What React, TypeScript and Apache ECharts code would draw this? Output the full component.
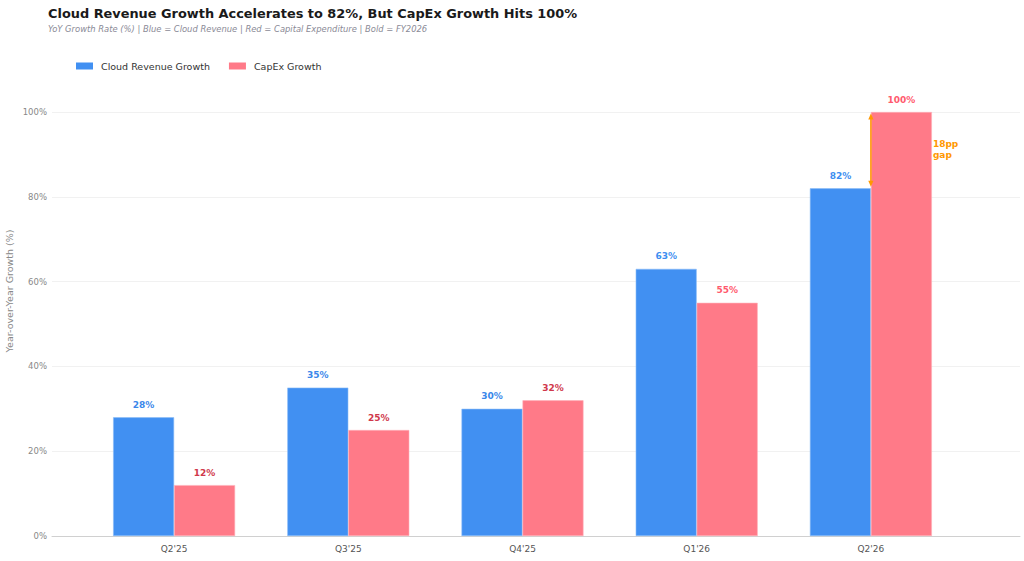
import React, { useEffect, useRef } from "react";
import * as echarts from "echarts";

const categories = ["Q2'25", "Q3'25", "Q4'25", "Q1'26", "Q2'26"];
const cloudGrowth = [28, 35, 30, 63, 82];
const capexGrowth = [12, 25, 32, 55, 100];
const fiscalYear = ["FY2025", "FY2025", "FY2025", "FY2026", "FY2026"];
const yTicks = [0, 20, 40, 60, 80, 100];

const FONT = "DejaVu Sans";
const BLUE = "#4190F2";
const RED = "#FF7A88";
const ORANGE = "#FF9800";

export default function App() {
  const ref = useRef<HTMLDivElement>(null);
  useEffect(() => {
    if (!ref.current) return;
    const chart = echarts.init(ref.current, null, { renderer: "svg" });
    const barW = 61;
    const blueLabel = (fy: string) => (fy === "FY2026" ? "#3D8EF0" : "#3A87EA");
    const redLabel = (fy: string) => (fy === "FY2026" ? "#FF5A6E" : "#D0384B");
    const gapIdx = categories.length - 1;
    const gap = capexGrowth[gapIdx] - cloudGrowth[gapIdx];
    const option: any = {
      animation: false,
      backgroundColor: "#fff",
      textStyle: { fontFamily: FONT },
      title: {
        text: "Cloud Revenue Growth Accelerates to 82%, But CapEx Growth Hits 100%",
        subtext: "YoY Growth Rate (%) | Blue = Cloud Revenue | Red = Capital Expenditure | Bold = FY2026",
        left: 43,
        top: 2,
        itemGap: 5,
        textStyle: { fontFamily: FONT, fontSize: 12.9, fontWeight: "bold", color: "#1a1a1a" },
        subtextStyle: { fontFamily: FONT, fontSize: 8.4, fontStyle: "italic", color: "#8a8a96" },
      },
      legend: {
        left: 71,
        top: 56,
        icon: "rect",
        itemWidth: 17,
        itemHeight: 7,
        itemGap: 19,
        itemStyle: { borderWidth: 0 },
        textStyle: { fontFamily: FONT, fontSize: 9.5, color: "#333", padding: [0, 0, 0, 3] },
        data: ["Cloud Revenue Growth", "CapEx Growth"],
      },
      grid: [
        { left: 52, right: 4, top: 112, bottom: 25 },
        { left: 87, right: 66, top: 112, bottom: 25 },
      ],
      xAxis: [
        {
          type: "category",
          gridIndex: 0,
          data: [""],
          axisLine: { show: true, lineStyle: { color: "#d0d0d0" } },
          axisTick: { show: false },
          axisLabel: { show: false },
        },
        {
          type: "category",
          gridIndex: 1,
          data: categories,
          axisLine: { show: false },
          axisTick: { show: false },
          axisLabel: { fontFamily: FONT, fontSize: 9, color: "#555", margin: 8 },
        },
      ],
      yAxis: [
        {
          type: "value",
          gridIndex: 0,
          min: yTicks[0],
          max: yTicks[yTicks.length - 1],
          interval: 20,
          axisLine: { show: false },
          axisTick: { show: false },
          axisLabel: { fontFamily: FONT, fontSize: 8.5, color: "#888", formatter: "{value}%", margin: 5 },
          splitLine: { lineStyle: { color: "#f1f1f1" } },
        },
        {
          type: "value",
          gridIndex: 1,
          min: yTicks[0],
          max: yTicks[yTicks.length - 1],
          interval: 20,
          show: false,
          splitLine: { show: false },
        },
      ],
      series: [
        {
          name: "Cloud Revenue Growth",
          type: "bar",
          xAxisIndex: 1,
          yAxisIndex: 1,
          barWidth: barW,
          barGap: "0%",
          itemStyle: { color: BLUE, borderColor: "#8bbcf7", borderWidth: 0.6 },
          data: cloudGrowth.map((v, i) => ({
            value: v,
            label: { color: blueLabel(fiscalYear[i]) },
          })),
          label: {
            show: true,
            position: "top",
            distance: 8,
            formatter: "{c}%",
            fontFamily: FONT,
            fontSize: 9,
            fontWeight: "bold",
          },
        },
        {
          name: "CapEx Growth",
          type: "bar",
          xAxisIndex: 1,
          yAxisIndex: 1,
          barWidth: barW,
          barGap: "0%",
          itemStyle: { color: RED, borderColor: "#ffb0b8", borderWidth: 0.6 },
          data: capexGrowth.map((v, i) => ({
            value: v,
            label: { color: redLabel(fiscalYear[i]) },
          })),
          label: {
            show: true,
            position: "top",
            distance: 8,
            formatter: "{c}%",
            fontFamily: FONT,
            fontSize: 9,
            fontWeight: "bold",
          },
        },
      ],
    };
    chart.setOption(option);
    const toPx = (v: number) =>
      chart.convertToPixel({ xAxisIndex: 1, yAxisIndex: 1 }, [gapIdx, v]) as number[];
    const pLo = toPx(cloudGrowth[gapIdx]);
    const pHi = toPx(capexGrowth[gapIdx]);
    const pMid = toPx((capexGrowth[gapIdx] + cloudGrowth[gapIdx]) / 2);
    const ax = pLo[0];
    const yTop = pHi[1] + 1.5;
    const yBot = pLo[1] - 1.5;
    const ah = 6;
    const aw = 2.6;
    chart.setOption(
      {
        graphic: [
          {
            type: "text",
            rotation: Math.PI / 2,
            x: 9,
            y: 291,
            style: {
              text: "Year-over-Year Growth (%)",
              fontFamily: FONT,
              fontSize: 9.5,
              fill: "#888",
              align: "center",
              verticalAlign: "middle",
            },
          },
          {
            type: "line",
            z: 100,
            shape: { x1: ax, y1: yTop + 3, x2: ax, y2: yBot - 3 },
            style: { stroke: ORANGE, lineWidth: 1.5 },
          },
          {
            type: "polygon",
            z: 100,
            shape: { points: [[ax, yTop], [ax - aw, yTop + ah], [ax + aw, yTop + ah]] },
            style: { fill: ORANGE },
          },
          {
            type: "polygon",
            z: 100,
            shape: { points: [[ax, yBot], [ax - aw, yBot - ah], [ax + aw, yBot - ah]] },
            style: { fill: ORANGE },
          },
          {
            type: "text",
            z: 100,
            x: pMid[0] + barW + 1,
            y: pMid[1] - 1,
            style: {
              text: `${gap}pp\ngap`,
              fontFamily: FONT,
              fontSize: 9,
              fontWeight: "bold",
              fill: ORANGE,
              lineHeight: 11,
              align: "left",
              verticalAlign: "middle",
            },
          },
        ],
      },
      { replaceMerge: ["graphic"] }
    );
    return () => chart.dispose();
  }, []);
  return <div ref={ref} style={{ width: 1024, height: 561, position: "absolute", left: 0, top: 0 }} />;
}
